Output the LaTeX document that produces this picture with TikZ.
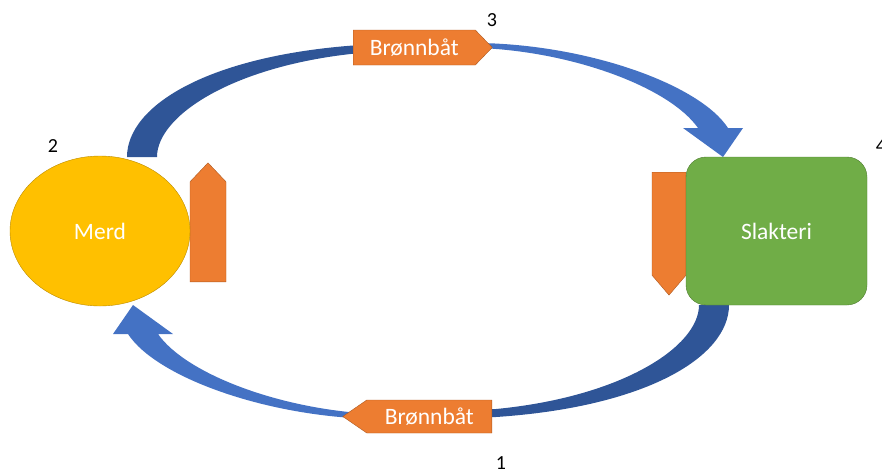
\documentclass[tikz,border=0pt]{standalone}
\usepackage{fontspec}
\setmainfont{Carlito}
\usetikzlibrary{shapes.geometric,shapes.symbols}
\definecolor{gul}{HTML}{FFC000}
\definecolor{gulkant}{HTML}{BC8C00}
\definecolor{gronn}{HTML}{70AD47}
\definecolor{gronnkant}{HTML}{507E32}
\definecolor{oransje}{HTML}{ED7D31}
\definecolor{oransjekant}{HTML}{AE5A21}
\definecolor{lysbla}{HTML}{4472C4}
\definecolor{morkbla}{HTML}{2F5597}

\begin{document}
\begin{tikzpicture}[x=1pt, y=-1pt, % 1 px = 1 pt, y nedover
  stor/.style={font=\fontsize{23.5}{28}\selectfont, text=white},
  tall/.style={font=\fontsize{20}{24}\selectfont, text=black, inner sep=0pt},
  merdbox/.style={ellipse, fill=gul, draw=gulkant, minimum width=180pt, minimum height=150pt, inner sep=0pt, stor},
  slakterbox/.style={rectangle, rounded corners=20pt, fill=gronn, draw=gronnkant, minimum width=181pt, minimum height=148pt, inner sep=0pt, stor},
  tag/.style={signal, fill=oransje, draw=oransjekant, inner sep=2pt, minimum height=35pt, stor},
  side/.style={signal, fill=oransje, draw=oransjekant, inner sep=0pt}]
  \useasboundingbox (0,0) rectangle (882,472); % marg

  \foreach \rot in {0,180}{ % pil over, og samme pil snudd under
    \begin{scope}[rotate around={\rot:(428,231)}]
      \fill[morkbla] (127,157) .. controls (127,105) and (210,55) .. (360,45) -- (430,44)
        -- (430,49) -- (360,53) .. controls (235,65) and (157,115) .. (157,157) -- cycle; % baksiden
      \fill[lysbla] (430,44) -- (480,43) .. controls (590,45) and (700,85) .. (728,128)
        -- (743,128) -- (723,157) -- (683,128) -- (698,128)
        .. controls (670,88) and (575,52) .. (480,48) -- (430,49) -- cycle; % forsiden med pilspiss
    \end{scope}
  }

  \node[side, signal to=north, signal pointer angle=87, minimum width=36pt, minimum height=100pt, anchor=south] (kaiM) at (208,282) {}; % baat ved merd
  \node[side, signal to=south, signal pointer angle=81, minimum width=34pt, minimum height=103pt, anchor=north] (kaiS) at (669,172) {}; % baat ved slakteri
  \node[merdbox] (merd) at (100,231) {Merd};
  \node[slakterbox] (slakteri) at (776.5,231) {Slakteri};

  \node[tag, signal to=east, signal pointer angle=92, minimum width=139pt, anchor=west] (baat3) at (353,47.5) {Brønnbåt}; % opp
  \node[tag, signal to=west, signal pointer angle=69, minimum width=149pt, minimum height=33pt, anchor=east] (baat1) at (492,416.5) {Brønnbåt}; % ned

  \node[tall] (n1) at (501,463) {1};
  \node[tall] (n2) at (53,146) {2};
  \node[tall] (n3) at (492,20) {3};
  \node[tall] (n4) at (881,146) {4};
\end{tikzpicture}
\end{document}
